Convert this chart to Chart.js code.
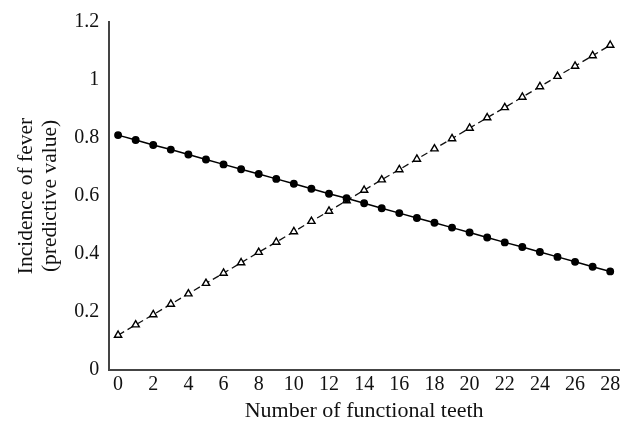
<!DOCTYPE html>
<html><head><meta charset="utf-8">
<script src="https://cdn.jsdelivr.net/npm/chart.js@4/dist/chart.umd.min.js"></script>
<style>html,body{margin:0;padding:0;background:#fff}#wrap{width:633px;height:436px}</style>
</head><body><div id="wrap"><canvas id="c"></canvas></div>
<script>
const teeth = [0,1,2,3,4,5,6,7,8,9,10,11,12,13,14,15,16,17,18,19,20,21,22,23,24,25,26,27,28];
const circleSeries = [0.81,0.793,0.776,0.76,0.743,0.726,0.709,0.692,0.676,0.659,0.642,0.625,0.608,0.592,0.575,0.558,0.541,0.524,0.508,0.491,0.474,0.457,0.44,0.424,0.407,0.39,0.373,0.356,0.34];
const triangleSeries = [0.12,0.156,0.191,0.227,0.263,0.299,0.334,0.37,0.406,0.441,0.477,0.513,0.548,0.584,0.62,0.656,0.691,0.727,0.763,0.798,0.834,0.87,0.905,0.941,0.977,1.013,1.048,1.084,1.12];
const yTitle = ["Incidence of fever","(predictive value)"];
const xTitle = "Number of functional teeth";
const font = "'Liberation Serif', 'DejaVu Serif', serif";
new Chart(document.getElementById('c'), {
  type: 'line',
  data: {
    labels: teeth,
    datasets: [
      {data: circleSeries, borderColor:'#000', borderWidth:1.5, pointStyle:'circle', pointRadius:3.2, pointBackgroundColor:'#000', pointBorderColor:'#000', tension:0},
      {data: triangleSeries, borderColor:'#111', borderWidth:1.3, borderDash:[7,4], pointStyle:'triangle', pointRadius:4.2, pointBorderWidth:1.4, pointBackgroundColor:'#fff', pointBorderColor:'#000', tension:0}
    ]
  },
  options: {
    responsive:true, maintainAspectRatio:false, animation:false,
    layout:{padding:{top:15,right:14,left:11,bottom:14}},
    plugins:{legend:{display:false}, tooltip:{enabled:false}},
    scales:{
      x:{
        type:'category', offset:true,
        grid:{display:false, drawTicks:false},
        border:{display:true, color:'#444', width:2},
        ticks:{color:'#111', font:{family:font, size:20}, padding:3, maxRotation:0, autoSkip:false,
          callback:function(v,i){ return i%2===0 ? teeth[i] : null; }},
        title:{display:true, text:xTitle, color:'#111', font:{family:font, size:22, lineHeight:1.0}, padding:{top:0,bottom:0}}
      },
      y:{
        min:0, max:1.2,
        grid:{display:false, drawTicks:false},
        border:{display:true, color:'#444', width:2},
        ticks:{stepSize:0.2, color:'#111', font:{family:font, size:20}, padding:10,
          callback:function(v){ return Math.round(v*10)/10; }},
        title:{display:true, text:yTitle, color:'#111', font:{family:font, size:21.5, lineHeight:1.1}, padding:{bottom:2}}
      }
    }
  }
});
</script></body></html>
